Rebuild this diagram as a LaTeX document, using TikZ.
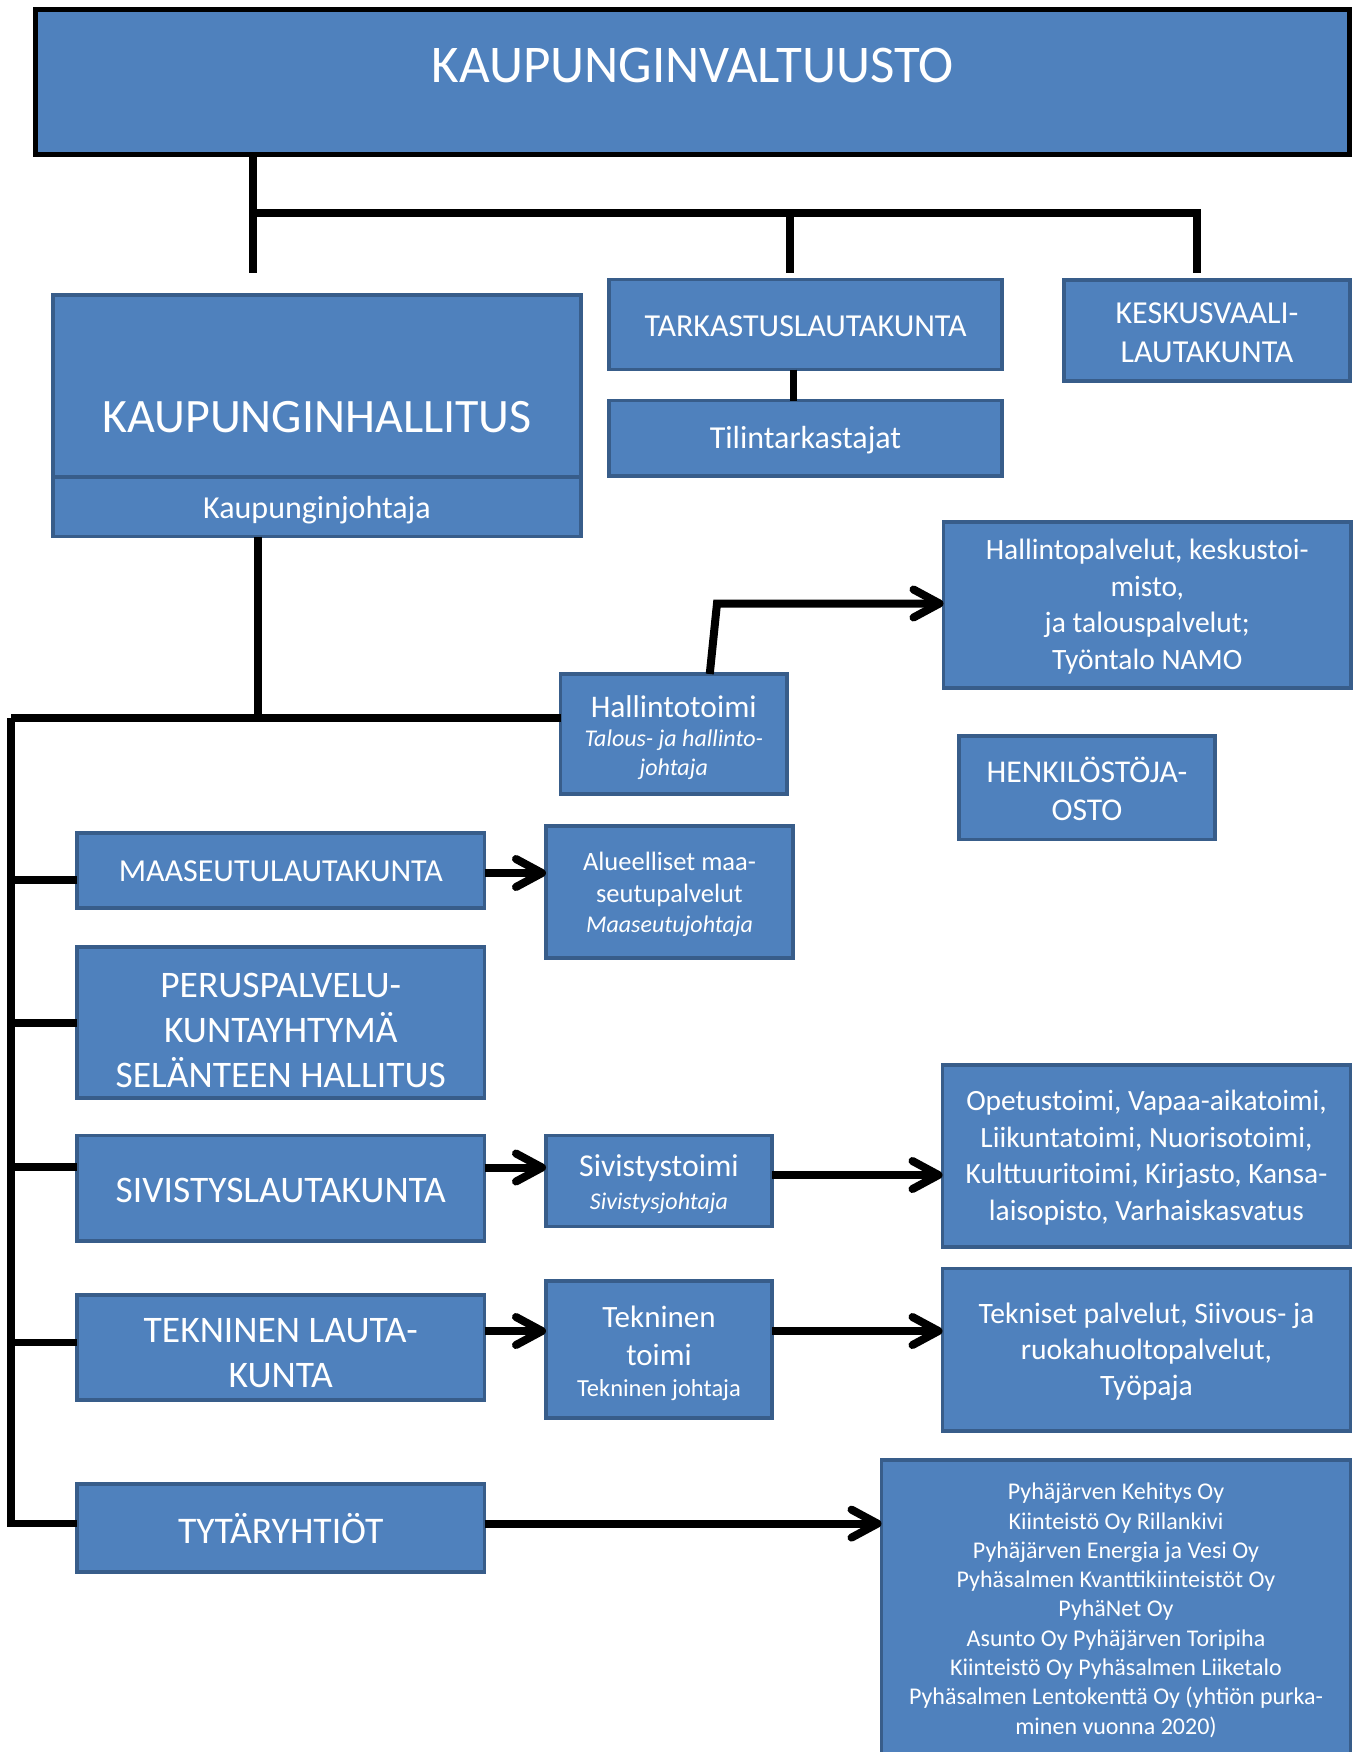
\documentclass[tikz,border=0pt]{standalone}
\usepackage{fontspec}
\setmainfont{Carlito}
\usetikzlibrary{arrows.meta}
\definecolor{boxfill}{HTML}{4F81BD}
\definecolor{boxline}{HTML}{385D8A}
\newcommand{\fs}[2]{\fontsize{#1}{#2}\selectfont}
\begin{document}
\begin{tikzpicture}[x=1pt,y=-1pt,
  box/.style={draw=boxline,line width=3.5pt,fill=boxfill,inner sep=0pt,outer sep=0pt},
  lbl/.style={text=white,inner sep=0pt,outer sep=0pt,align=center},
  conn/.style={line width=7.5pt,draw=black},
  arr/.style={conn,line width=8pt,-{Straight Barb[length=26pt,width=28pt,round]}}]
\useasboundingbox (0,0) rectangle (1357,1752);
\clip (0,0) rectangle (1357,1752);

% boxes
\node[box,draw=black,line width=5pt,minimum width=1314pt,minimum height=144.4pt] (kv) at (692.5,82) {};
\node[box,minimum width=528pt,minimum height=182pt] (kh) at (317,386) {};
\node[box,minimum width=528pt,minimum height=59.5pt] (khj) at (317,506.75) {};
\node[box,minimum width=393pt,minimum height=90pt] (tark) at (805.5,324.5) {};
\node[box,minimum width=393pt,minimum height=75.5pt] (tilin) at (805.5,438.25) {};
\node[box,minimum width=286pt,minimum height=101pt] (kesk) at (1207,330.5) {};
\node[box,minimum width=407.5pt,minimum height=166pt] (hpalv) at (1147.25,605) {};
\node[box,minimum width=226.5pt,minimum height=120pt] (htoimi) at (673.75,734) {};
\node[box,minimum width=256pt,minimum height=103.5pt] (henk) at (1087,787.75) {};
\node[box,minimum width=407.5pt,minimum height=75pt] (maas) at (280.75,870.5) {};
\node[box,minimum width=247pt,minimum height=132pt] (alue) at (669.5,892) {};
\node[box,minimum width=407.5pt,minimum height=151pt] (perus) at (280.75,1022.5) {};
\node[box,minimum width=407.5pt,minimum height=105.5pt] (sivl) at (280.75,1188.25) {};
\node[box,minimum width=226pt,minimum height=91pt] (sivt) at (659,1181) {};
\node[box,minimum width=408pt,minimum height=182pt] (opet) at (1146.5,1156) {};
\node[box,minimum width=407.5pt,minimum height=105pt] (tekl) at (280.75,1347.5) {};
\node[box,minimum width=226pt,minimum height=137pt] (tekt) at (659,1349.5) {};
\node[box,minimum width=408pt,minimum height=162.5pt] (tekp) at (1146.5,1349.75) {};
\node[box,minimum width=407.5pt,minimum height=88pt] (tyt) at (280.75,1528) {};
\node[box,minimum width=469pt,minimum height=340pt] (comp) at (1116,1630) {};

% texts
\node[lbl,font=\fs{53}{60}] (kv-t) at (692.5,65.5) {KAUPUNGINVALTUUSTO};
\node[lbl,font=\fs{48}{56}] (kh-t) at (317,416.7) {KAUPUNGINHALLITUS};
\node[lbl,font=\fs{32}{38}] (khj-t) at (317,510) {Kaupunginjohtaja};
\node[lbl,font=\fs{32}{38}] (tark-t) at (805.5,326.4) {TARKASTUSLAUTAKUNTA};
\node[lbl,font=\fs{32}{38}] (tilin-t) at (805.5,440.4) {Tilintarkastajat};
\node[lbl,font=\fs{32}{39}] (kesk-t) at (1207,332.5) {KESKUSVAALI-\\LAUTAKUNTA};
\node[lbl,font=\fs{29.5}{36.5}] (hpalv-t) at (1147.25,606.5) {Hallintopalvelut, keskustoi-\\misto,\\ja talouspalvelut;\\Työntalo NAMO};
\node[lbl,font=\fs{31.5}{33}] (htoimi-t) at (673.75,706.7) {Hallintotoimi};
\node[lbl,font=\fs{24}{29.3}\itshape] (htoimi-j) at (673.75,755) {Talous- ja hallinto-\\johtaja};
\node[lbl,font=\fs{31.7}{38}] (henk-t) at (1087,789) {HENKILÖSTÖJA-\\OSTO};
\node[lbl,font=\fs{32}{38}] (maas-t) at (280.75,871.7) {MAASEUTULAUTAKUNTA};
\node[lbl,font=\fs{26.5}{32}] (alue-t) at (669.5,879) {Alueelliset maa-\\seutupalvelut};
\node[lbl,font=\fs{24}{29}\itshape] (alue-j) at (669.5,926) {Maaseutujohtaja};
\node[lbl,font=\fs{37.5}{45}] (perus-t) at (280.75,1030) {PERUSPALVELU-\\KUNTAYHTYMÄ\\SELÄNTEEN HALLITUS};
\node[lbl,font=\fs{37.5}{45}] (sivl-t) at (280.75,1190) {SIVISTYSLAUTAKUNTA};
\node[lbl,font=\fs{31.8}{38}] (sivt-t) at (659,1168) {Sivistystoimi};
\node[lbl,font=\fs{24}{29}\itshape] (sivt-j) at (659,1203) {Sivistysjohtaja};
\node[lbl,font=\fs{29.4}{36.5}] (opet-t) at (1146.5,1157.5) {Opetustoimi, Vapaa-aikatoimi,\\Liikuntatoimi, Nuorisotoimi,\\Kulttuuritoimi, Kirjasto, Kansa-\\laisopisto, Varhaiskasvatus};
\node[lbl,font=\fs{37.5}{45}] (tekl-t) at (280.75,1353.5) {TEKNINEN LAUTA-\\KUNTA};
\node[lbl,font=\fs{31}{38}] (tekt-t) at (659,1336) {Tekninen\\toimi};
\node[lbl,font=\fs{24.5}{29}] (tekt-j) at (659,1390.5) {Tekninen johtaja};
\node[lbl,font=\fs{29.6}{36}] (tekp-t) at (1146.5,1352) {Tekniset palvelut, Siivous- ja\\ruokahuoltopalvelut,\\Työpaja};
\node[lbl,font=\fs{37.6}{45}] (tyt-t) at (280.75,1529) {TYTÄRYHTIÖT};
\node[lbl,font=\fs{24}{29.3}] (comp-t) at (1116,1610.3) {Pyhäjärven Kehitys Oy\\Kiinteistö Oy Rillankivi\\Pyhäjärven Energia ja Vesi Oy\\Pyhäsalmen Kvanttikiinteistöt Oy\\PyhäNet Oy\\Asunto Oy Pyhäjärven Toripiha\\Kiinteistö Oy Pyhäsalmen Liiketalo\\Pyhäsalmen Lentokenttä Oy (yhtiön purka-\\minen vuonna 2020)};

% connector coordinates
\coordinate (kvdrop) at (253,273);
\coordinate (busL) at (253,213);
\coordinate (busR) at (1197,213);
\coordinate (tarkdrop) at (790,273);
\coordinate (keskdrop) at (1197,273);
\coordinate (khx) at (258,718);
\coordinate (leftbus) at (11,718);
\coordinate (leftend) at (11,1523.6);
\coordinate (hbend) at (717,603.5);

% connectors
\draw[conn] (kv.south -| kvdrop) -- (kvdrop);
\draw[conn] (busL) -- (busR) -- (keskdrop);
\draw[conn] (busL -| tarkdrop) -- (tarkdrop);
\draw[conn] (tark.south -| 793.6,0) -- (tilin.north -| 793.6,0);
\draw[conn] (khj.south -| khx) -- (khx);
\draw[conn] (leftbus) -- (htoimi.west |- leftbus);
\draw[conn] (leftbus) -- (leftend) -- (tyt.west |- leftend);
\draw[conn] (leftbus |- 0,880) -- (maas.west |- 0,880);
\draw[conn] (leftbus |- 0,1023) -- (perus.west |- 0,1023);
\draw[conn] (leftbus |- 0,1167) -- (sivl.west |- 0,1167);
\draw[conn] (leftbus |- 0,1342.5) -- (tekl.west |- 0,1342.5);

% arrows
\draw[arr] ([xshift=36pt]htoimi.north) -- (hbend) -- (hbend -| hpalv.west);
\draw[arr] (maas.east |- 0,873) -- (alue.west |- 0,873);
\draw[arr] (sivl.east |- 0,1167.5) -- (sivt.west |- 0,1167.5);
\draw[arr] (sivt.east |- 0,1175) -- (opet.west |- 0,1175);
\draw[arr] (tekl.east |- 0,1331) -- (tekt.west |- 0,1331);
\draw[arr] (tekt.east |- 0,1331) -- (tekp.west |- 0,1331);
\draw[arr] (tyt.east |- 0,1523.6) -- (comp.west |- 0,1523.6);
\end{tikzpicture}
\end{document}
